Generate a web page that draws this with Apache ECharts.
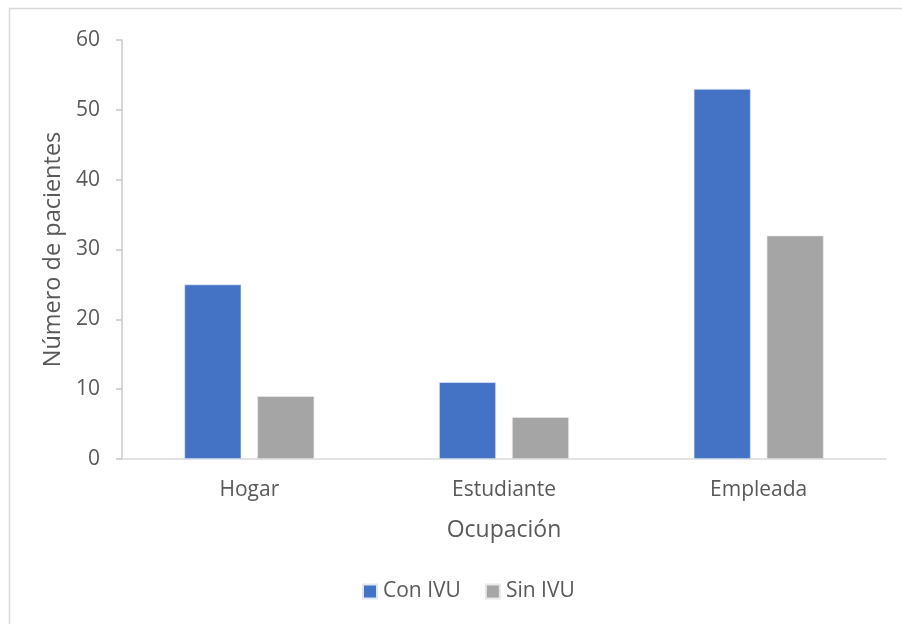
<!DOCTYPE html>
<html>
<head>
<meta charset="utf-8">
<script src="https://cdn.jsdelivr.net/npm/echarts@6/dist/echarts.min.js"></script>
<style>
  html, body { margin: 0; padding: 0; background: #fff; }
  #chart { width: 902px; height: 624px; }
</style>
</head>
<body>
<div id="chart"></div>
<script>
// Occupation categories and patient counts per group
const categories = ['Hogar', 'Estudiante', 'Empleada'];
const conIVU = [25, 11, 53];
const sinIVU = [9, 6, 32];
const seriesNames = ['Con IVU', 'Sin IVU'];

const FONT = '"Open Sans", "Noto Sans", sans-serif';
const TEXT = '#595959';

const chart = echarts.init(document.getElementById('chart'), null, { renderer: 'canvas' });

chart.setOption({
  animation: false,
  backgroundColor: '#ffffff',
  textStyle: { fontFamily: FONT },
  graphic: [{
    type: 'rect',
    shape: { x: 9.5, y: 8.5, width: 1000, height: 1000 },
    style: { fill: 'none', stroke: '#d9d9d9', lineWidth: 1.5 },
    silent: true
  }],
  grid: { left: 122, right: 16, top: 40, bottom: 165 },
  legend: {
    data: seriesNames,
    bottom: 17,
    left: 357,
    itemWidth: 14,
    itemHeight: 14,
    itemGap: 24,
    icon: 'rect',
    textStyle: { color: TEXT, fontSize: 21, fontFamily: FONT, padding: [0, 0, 0, 1] }
  },
  xAxis: {
    type: 'category',
    data: categories,
    name: 'Ocupación',
    nameLocation: 'middle',
    nameGap: 60,
    nameTextStyle: { color: TEXT, fontSize: 23, fontFamily: FONT },
    axisLine: { lineStyle: { color: '#d9d9d9', width: 1.5 } },
    axisTick: { show: false },
    axisLabel: { color: TEXT, fontSize: 21, margin: 21, fontFamily: FONT }
  },
  yAxis: {
    type: 'value',
    min: 0,
    max: 60,
    interval: 10,
    name: 'Número de pacientes',
    nameLocation: 'middle',
    nameGap: 54,
    nameTextStyle: { color: TEXT, fontSize: 23.5, fontFamily: FONT },
    axisLine: { show: true, lineStyle: { color: '#c8c8c8', width: 1.5 } },
    axisTick: { show: true, length: 6, lineStyle: { color: '#c8c8c8', width: 1.5 } },
    splitLine: { show: false },
    axisLabel: { color: TEXT, fontSize: 21, margin: 22, fontFamily: FONT }
  },
  series: [
    {
      name: seriesNames[0],
      type: 'bar',
      data: conIVU,
      barWidth: 57,
      barGap: '28%',
      itemStyle: { color: '#4472c4', borderColor: '#dfe7f5', borderWidth: 0.7 }
    },
    {
      name: seriesNames[1],
      type: 'bar',
      data: sinIVU,
      barWidth: 57,
      barGap: '28%',
      itemStyle: { color: '#a5a5a5', borderColor: '#e8e8e8', borderWidth: 0.7 }
    }
  ]
});
</script>
</body>
</html>
